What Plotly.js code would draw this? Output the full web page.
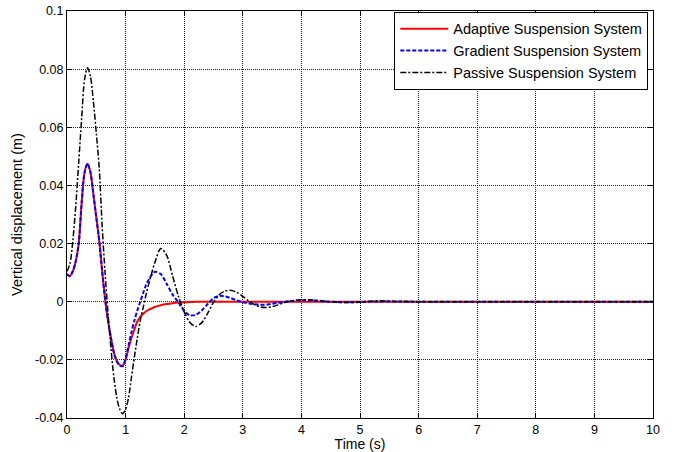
<!DOCTYPE html>
<html>
<head>
<meta charset="utf-8">
<script src="https://cdn.plot.ly/plotly-3.0.1.min.js"></script>
<style>html,body{margin:0;padding:0;background:#fff;}#chart{width:679px;height:452px;}</style>
</head>
<body>
<div id="chart"></div>
<script>
var time = [0,0.05,0.1,0.15,0.2,0.25,0.3,0.35,0.4,0.45,0.5,0.55,0.6,0.65,0.7,0.75,0.8,0.85,0.9,0.95,1.0,1.05,1.1,1.15,1.2,1.25,1.3,1.35,1.4,
  1.5,1.6,1.7,1.8,1.9,2.0,2.1,2.2,2.3,2.4,2.5,2.6,2.7,2.8,2.9,3.0,3.1,3.2,3.3,3.4,3.5,3.6,3.7,3.8,
  4.0,4.2,4.4,4.6,4.8,5.0,5.3,5.6,6,7,8,9,10];

var adaptive = [0.0095,0.0088,0.0105,0.014,0.020,0.034,0.0445,0.0475,0.0445,0.037,0.029,0.021,0.0105,0.001,-0.0065,-0.0125,-0.0175,-0.0205,-0.0218,-0.022,-0.020,-0.016,-0.0125,-0.0095,-0.0068,-0.0052,-0.0042,-0.0033,-0.0027,
  -0.0018,-0.0012,-0.0008,-0.0005,-0.0003,-0.0002,-0.0001,0,0,0,0,0,0,0,0,0,0,0,0,0,0,0,0,0,
  0,0,0,0,0,0,0,0,0,0,0,0,0];

var gradient = [0.0095,0.0088,0.0105,0.014,0.020,0.034,0.0445,0.0475,0.0445,0.037,0.029,0.021,0.0105,0.001,-0.0065,-0.0125,-0.0175,-0.0205,-0.0218,-0.0222,-0.0195,-0.015,-0.0105,-0.0065,-0.003,0.0,0.003,0.0058,0.0078,
  0.0103,0.0095,0.0062,0.0025,-0.0002,-0.0032,-0.0047,-0.0045,-0.003,-0.0008,0.0012,0.002,0.0018,0.0012,0.0004,-0.0002,-0.0006,-0.0009,-0.001,-0.001,-0.0007,-0.0004,-0.0001,0.0002,
  0.0005,0.0004,0.0001,-0.0001,-0.0002,-0.0001,0.0001,0.0001,0,0,0,0,0];

var passive = [0.0105,0.013,0.021,0.033,0.048,0.063,0.0765,0.0805,0.0775,0.069,0.058,0.046,0.026,0.01,-0.004,-0.016,-0.026,-0.033,-0.037,-0.0385,-0.037,-0.033,-0.026,-0.019,-0.0125,-0.0065,-0.002,0.0025,0.0065,
  0.0135,0.0183,0.016,0.009,0.002,-0.0035,-0.0072,-0.0085,-0.0072,-0.004,-0.0002,0.0025,0.0037,0.0039,0.0032,0.0018,0.0003,-0.001,-0.0018,-0.002,-0.0017,-0.0011,-0.0004,0.0002,
  0.0007,0.0006,0.0002,-0.0002,-0.0003,-0.0001,0.0003,0.0001,0,0,0,0,0];

var seriesNames = ['Adaptive Suspension System','Gradient Suspension System','Passive Suspension System'];
var xTicks = [0,1,2,3,4,5,6,7,8,9,10];
var yTicks = [-0.04,-0.02,0,0.02,0.04,0.06,0.08,0.1];
var yTickText = ['-0.04','-0.02','0','0.02','0.04','0.06','0.08','0.1'];

var traces = [
  {x: time, y: adaptive, name: seriesNames[0], mode: 'lines',
   line: {color: '#ff0000', width: 2, shape: 'spline', smoothing: 0.8}},
  {x: time, y: gradient, name: seriesNames[1], mode: 'lines',
   line: {color: '#0000ff', width: 2, dash: '4px,2px', shape: 'spline', smoothing: 0.8}},
  {x: time, y: passive, name: seriesNames[2], mode: 'lines',
   line: {color: '#000000', width: 1.5, dash: '6px,2px,2px,2px', shape: 'spline', smoothing: 0.8}}
];

var layout = {
  width: 679, height: 452,
  margin: {l: 67, r: 26, t: 11, b: 34},
  paper_bgcolor: '#ffffff', plot_bgcolor: '#ffffff',
  font: {family: '"Liberation Sans", Arial, sans-serif', size: 12, color: '#000'},
  showlegend: true,
  legend: {x: 0.992, y: 0.998, xanchor: 'right', yanchor: 'top', bgcolor: '#fff',
    bordercolor: '#000', borderwidth: 1, font: {size: 14.5}, tracegroupgap: 0, itemwidth: 48},
  xaxis: {range: [0, 10], tickvals: xTicks, ticks: 'inside', ticklen: 5, tickcolor: '#000',
    showline: true, linecolor: '#000', linewidth: 1, mirror: 'allticks',
    showgrid: true, gridcolor: '#222', griddash: '1px,1px', gridwidth: 1, zeroline: false,
    tickfont: {size: 12.5},
    title: {text: 'Time (s)', font: {size: 14}, standoff: 5}},
  yaxis: {range: [-0.04, 0.1], tickvals: yTicks, ticktext: yTickText, ticks: 'inside', ticklen: 5, tickcolor: '#000',
    showline: true, linecolor: '#000', linewidth: 1, mirror: 'allticks',
    showgrid: true, gridcolor: '#222', griddash: '1px,1px', gridwidth: 1, zeroline: false,
    tickfont: {size: 12.5},
    title: {text: 'Vertical displacement (m)', font: {size: 14.5}, standoff: 8}}
};

Plotly.newPlot('chart', traces, layout, {displayModeBar: false, staticPlot: true});
</script>
</body>
</html>
